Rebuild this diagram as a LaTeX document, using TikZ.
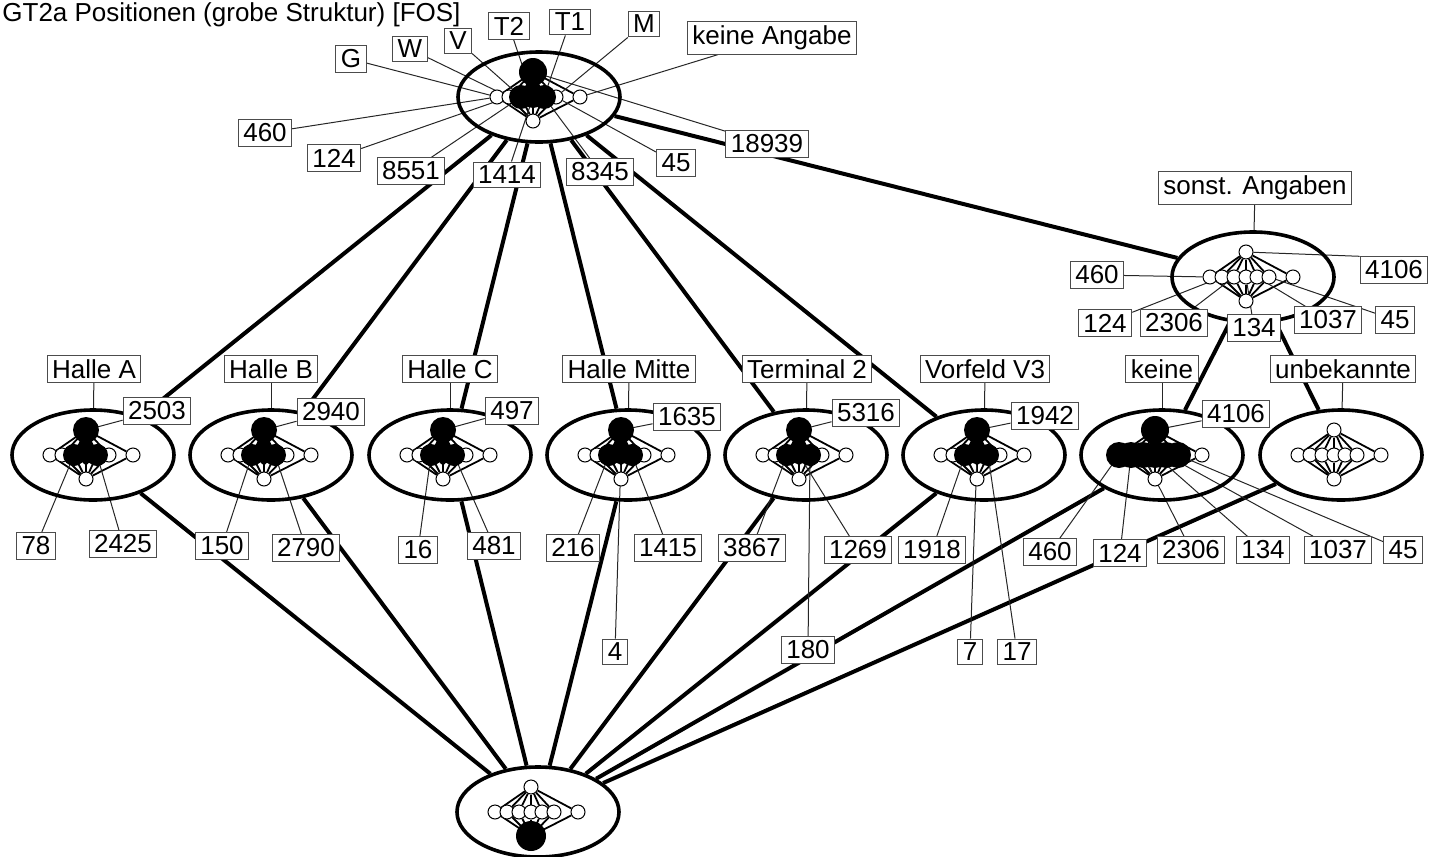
\documentclass[tikz,border=0pt]{standalone}
\usepackage{fontspec}
\setmainfont{Liberation Sans}
\usetikzlibrary{shapes.geometric}
\pgfdeclarelayer{back}
\pgfdeclarelayer{mid}
\pgfsetlayers{back,mid,main}
\newcommand{\lbfont}{\fontsize{13}{15}\selectfont}
% inner diagram: prefix, x, y
\newcommand{\innerlat}[3]{%
  \begin{pgfonlayer}{mid}
  \node[dot] (#1-T) at (#2,#3-25) {};
  \node[dot] (#1-B) at (#2,#3+24) {};
  \foreach \o [count=\i] in {-36,-24,-12,0,11,23,47}
    \node[dot] (#1-m\i) at ({#2+(\o)},#3) {};
  \end{pgfonlayer}
  \begin{pgfonlayer}{back}
  \foreach \i in {1,...,7}
    \draw[inedge] (#1-T) -- (#1-m\i) -- (#1-B);
  \end{pgfonlayer}}
% filled dot over an inner node: node, size
\newcommand{\blk}[2]{%
  \begin{pgfonlayer}{mid}
  \node[bigdot, minimum size=#2] (#1b) at (#1) {};
  \end{pgfonlayer}}
% dense black middle of an inner diagram
\newcommand{\blob}[1]{%
  \begin{pgfonlayer}{mid}
  \fill (#1-T.center) -- (#1-m3.center) -- ([yshift=3pt]#1-B.north) -- (#1-m5.center) -- cycle;
  \end{pgfonlayer}}

\begin{document}
\begin{tikzpicture}[x=0.5pt, y=-0.5pt,
  outer/.style={draw, ellipse, line width=1.8pt, minimum width=81pt, minimum height=45pt, inner sep=0pt},
  dot/.style={circle, draw, fill=white, line width=0.5pt, minimum size=7pt, inner sep=0pt},
  bigdot/.style={circle, fill=black, inner sep=0pt},
  inedge/.style={line width=0.9pt},
  lab/.style={draw=black!70, fill=white, line width=0.5pt, font=\lbfont, inner xsep=2.5pt, inner ysep=2pt},
  link/.style={line width=2pt},
  tick/.style={line width=0.5pt, black!85}]
\useasboundingbox (0,0) rectangle (1431,857);

\node[anchor=base west, font=\lbfont, inner sep=0pt] (title) at (2,21) {GT2a Positionen (grobe Struktur) [FOS]};

% inner diagrams
\innerlat{top}{533}{97}
\innerlat{son}{1246}{277}
\innerlat{A}{86}{455}
\innerlat{B}{264}{455}
\innerlat{C}{443}{455}
\innerlat{HM}{621}{455}
\innerlat{T2}{799}{455}
\innerlat{V3}{977}{455}
\innerlat{ke}{1155}{455}
\innerlat{un}{1334}{455}
\innerlat{bot}{531}{812}

\foreach \p in {top,A,B,C,HM,T2,V3}{\blob{\p}}
\blk{top-T}{14pt} \blk{top-m3}{12pt} \blk{top-m4}{11pt} \blk{top-m5}{12pt}
\foreach \p in {A,B,C,HM,T2,V3}{\blk{\p-T}{13pt}\blk{\p-m3}{11pt}\blk{\p-m5}{11pt}}
\foreach \p in {HM,T2,V3}{\blk{\p-m4}{9pt}}
\blk{ke-T}{14pt}
\foreach \i in {1,...,6}{\blk{ke-m\i}{13pt}}
\blk{bot-B}{15pt}

% outer diagram
\node[outer] (top) at (539,97) {};
\node[outer] (son) at (1253,277) {};
\foreach \n/\x in {A/93,B/271,C/450,HM/628,T2/806,V3/984,ke/1162,un/1341}
  \node[outer] (\n) at (\x,455) {};
\node[outer] (bot) at (538,812) {};

% labels of the top node
\node[lab] (tG) at (351,59) {G};
\node[lab] (tW) at (410,49) {W};
\node[lab] (tV) at (458,41) {V};
\node[lab] (tT2) at (509,26) {T2};
\node[lab] (tT1) at (570,22) {T1};
\node[lab] (tM) at (644,24) {M};
\node[lab] (tkA) at (772,38) {keine Angabe};
\node[lab] (t460) at (265,133) {460};
\node[lab] (t124) at (334,158) {124};
\node[lab] (t8551) at (411,171) {8551};
\node[lab] (t1414) at (507,175) {1414};
\node[lab] (t8345) at (600,172) {8345};
\node[lab] (t45) at (676,163) {45};
\node[lab] (t18939) at (767,144) {18939};

% sonst. Angaben
\node[lab] (lson) at (1255,188) {sonst. Angaben};
\node[lab] (s460) at (1097,275) {460};
\node[lab] (s4106) at (1394,270) {4106};
\node[lab] (s124) at (1105,323) {124};
\node[lab] (s2306) at (1174,323) {2306};
\node[lab] (s134) at (1254,328) {134};
\node[lab] (s1037) at (1328,320) {1037};
\node[lab] (s45) at (1395,320) {45};

% row
\node[lab] (lA) at (94,369) {Halle A};
\node[lab] (a2503) at (157,411) {2503};
\node[lab] (a78) at (36,546) {78};
\node[lab] (a2425) at (123,544) {2425};
\node[lab] (lB) at (271,369) {Halle B};
\node[lab] (b2940) at (331,412) {2940};
\node[lab] (b150) at (222,546) {150};
\node[lab] (b2790) at (306,548) {2790};
\node[lab] (lC) at (450,369) {Halle C};
\node[lab] (c497) at (512,411) {497};
\node[lab] (c16) at (418,550) {16};
\node[lab] (c481) at (494,546) {481};
\node[lab] (lHM) at (629,369) {Halle Mitte};
\node[lab] (h1635) at (687,417) {1635};
\node[lab] (h216) at (573,548) {216};
\node[lab] (h4) at (615,652) {4};
\node[lab] (h1415) at (668,548) {1415};
\node[lab] (lT2) at (807,369) {Terminal 2};
\node[lab] (e5316) at (866,413) {5316};
\node[lab] (e3867) at (752,548) {3867};
\node[lab] (e1269) at (858,550) {1269};
\node[lab] (e180) at (808,650) {180};
\node[lab] (lV3) at (985,369) {Vorfeld V3};
\node[lab] (v1942) at (1045,416) {1942};
\node[lab] (v1918) at (932,550) {1918};
\node[lab] (v7) at (970,652) {7};
\node[lab] (v17) at (1017,652) {17};
\node[lab] (lke) at (1162,369) {keine};
\node[lab] (k4106) at (1236,414) {4106};
\node[lab] (k460) at (1050,552) {460};
\node[lab] (k124) at (1120,553) {124};
\node[lab] (k2306) at (1191,550) {2306};
\node[lab] (k134) at (1263,550) {134};
\node[lab] (k1037) at (1338,550) {1037};
\node[lab] (k45) at (1403,550) {45};
\node[lab] (lun) at (1343,369) {unbekannte};

\begin{pgfonlayer}{back}
\foreach \n in {A,B,C,HM,T2,V3,son} \draw[link] (top) -- (\n);
\draw[link] (son) -- (ke);
\draw[link] (son) -- (un);
\foreach \n in {A,B,C,HM,T2,V3,ke,un} \draw[link] (\n) -- (bot);

\foreach \l/\n in {tG/m1,tW/m2,tV/m3,tT2/m4,tT1/m5,tM/m6,tkA/m7,t460/m1,t124/m2,t8551/m3,t1414/m4,t8345/m5,t45/m6,t18939/T}
  \draw[tick] (\l) -- (top-\n);
\foreach \l/\n in {s460/m1,s124/m2,s2306/m3,s134/m4,s1037/m5,s45/m6}
  \draw[tick] (\l) -- (son-\n);
\draw[tick] (s4106.north west) -- (son-T);
\foreach \l/\n in {lson/son,lA/A,lB/B,lC/C,lHM/HM,lT2/T2,lV3/V3,lke/ke,lun/un}
  \draw[tick] (\l) -- (\n);
\foreach \l/\n in {a2503/A-T,a78/A-m3,a2425/A-m5,b2940/B-T,b150/B-m3,b2790/B-m5,c497/C-T,c16/C-m3,c481/C-m5}
  \draw[tick] (\l) -- (\n);
\foreach \l/\n in {h1635/HM-T,h216/HM-m3,h4/HM-m4,h1415/HM-m5,e5316/T2-T,e3867/T2-m3,e1269/T2-m4,e180/T2-m5}
  \draw[tick] (\l) -- (\n);
\foreach \l/\n in {v1942/V3-T,v1918/V3-m3,v7/V3-m4,v17/V3-m5,k4106/ke-T,k460/ke-m1,k124/ke-m2,k2306/ke-m3,k134/ke-m4,k1037/ke-m5,k45/ke-m6}
  \draw[tick] (\l) -- (\n);
\end{pgfonlayer}
\end{tikzpicture}
\end{document}
